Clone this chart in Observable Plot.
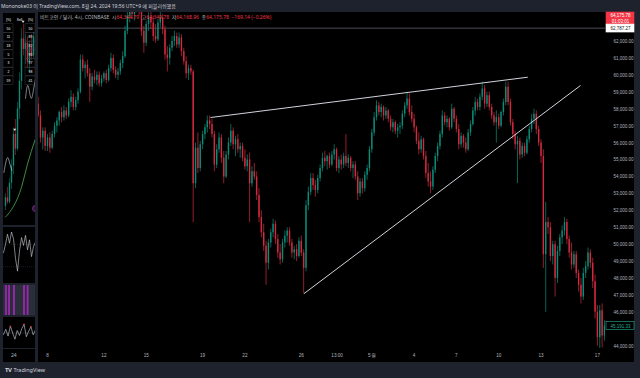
<!DOCTYPE html>
<html><head><meta charset="utf-8">
<script src="https://cdn.jsdelivr.net/npm/d3@7"></script>
<script src="https://cdn.jsdelivr.net/npm/@observablehq/plot@0.6"></script>
<style>
html,body{margin:0;padding:0;}
body{width:640px;height:378px;background:#1e222d;position:relative;overflow:hidden;font-family:"Noto Sans","Noto Sans CJK KR",sans-serif;}
.abs{position:absolute;}
#header{left:1px;top:0;height:12px;line-height:12px;font-size:5px;color:#d1d4dc;white-space:nowrap;}
#legend{left:40px;top:14px;font-size:5px;line-height:6px;color:#b2b5be;white-space:nowrap;z-index:3}
#legend .v{color:#f23645}
#footer{left:5px;top:366px;height:8px;line-height:8px;font-size:5.5px;color:#d1d4dc;white-space:nowrap;}
#footer b{font-size:6px;margin-right:2px;letter-spacing:-0.5px}
.panel{background:#000;}
</style></head><body>
<div id="header" class="abs"></div>
<div id="main" class="abs" style="left:38px;top:12px;"></div>
<div id="legend" class="abs"></div>
<div id="lmain" class="abs panel" style="left:3px;top:13px;width:32px;height:212px"></div>
<div id="losc1" class="abs panel" style="left:3px;top:227px;width:32px;height:56px"></div>
<div id="lpurple" class="abs" style="left:3px;top:285px;width:32px;height:30px"></div>
<div id="losc3" class="abs panel" style="left:3px;top:317px;width:32px;height:31px"></div>
<div id="lbottom" class="abs panel" style="left:3px;top:349px;width:32px;height:13px;font-size:5px;color:#b2b5be;line-height:12px;"></div>
<div id="footer" class="abs"></div>
<script>
// ---------- texts ----------
const headerText = "Mononoke03 이 TradingView.com, 8월 24, 2024 19:56 UTC+9 에 퍼블리쉬했음";
const symbolTitle = "비트코인 / 달러, 4시, COINBASE";
const legendLabels = ["시","고","저","종"];
const legendValues = ["64,344.79","64,349.78","64,168.96","64,175.78"];
const legendChange = "−169.14 (−0.26%)";

// ---------- main chart data (prices in thousands USD, 4h candles) ----------
// x unit: days since Apr 8 00:00; first candle Apr 7 08:00
const firstCandleDay = -1 + 2/6;
const candleStepDays = 1/6;
// [open, high, low, close]
const ohlc = [
[58.3,58.7,57.5,57.6],[57.6,57.9,56.0,56.3],[56.3,56.9,55.6,56.7],[56.7,56.9,55.5,55.8],[55.8,56.5,55.5,56.3],
[56.3,56.6,55.4,55.7],[55.7,56.7,55.6,56.5],[56.5,57.2,56.3,57.0],[57.0,57.5,56.6,57.3],[57.3,57.9,57.0,57.8],
[57.8,58.1,57.2,57.5],[57.5,58.2,57.3,57.9],[57.9,58.1,57.4,57.6],[57.6,58.6,57.5,58.4],[58.4,59.1,58.1,58.7],
[58.7,58.9,57.9,58.1],[58.1,58.7,57.9,58.5],[58.5,59.2,58.3,59.0],[59.0,61.2,58.9,60.9],[60.9,61.2,60.2,60.4],
[60.4,60.8,59.8,60.6],[60.6,60.9,59.9,60.1],[60.1,60.4,58.4,59.3],[59.3,60.1,59.1,59.9],[59.9,60.3,59.5,59.7],
[59.7,60.2,59.4,60.0],[60.0,60.2,59.3,59.5],[59.5,60.0,59.3,59.8],[59.8,60.2,59.6,60.1],[60.1,60.3,59.5,59.7],
[59.7,60.6,59.6,60.4],[60.4,61.3,60.2,61.0],[61.0,61.2,60.1,60.3],[60.3,60.5,59.8,60.0],[60.0,60.4,59.7,60.2],
[60.2,60.9,60.0,60.7],[60.7,61.4,60.4,61.1],[61.1,62.9,61.0,62.6],[62.6,63.9,62.4,63.5],[63.5,64.3,63.1,64.0],
[64.0,64.6,63.3,63.6],[63.6,64.5,63.2,64.2],[64.2,64.9,63.7,64.4],[64.4,64.8,63.5,63.8],[63.8,64.2,62.3,62.6],
[62.6,62.9,61.3,61.9],[61.9,63.2,61.7,63.0],[63.0,63.7,62.6,63.4],[63.4,63.8,62.7,63.1],[63.1,63.5,62.0,62.3],
[62.3,63.0,61.9,62.1],[62.1,63.3,62.0,63.1],[63.1,63.8,62.8,63.4],[63.4,63.6,62.4,62.7],[62.7,62.9,60.9,61.2],
[61.2,61.7,60.2,61.0],[61.0,61.8,60.6,61.6],[61.6,62.3,61.4,62.0],[62.0,62.6,61.7,62.3],[62.3,62.5,61.6,61.8],
[61.8,62.5,61.6,62.2],[62.2,62.4,61.1,61.4],[61.4,61.6,60.6,60.8],[60.8,61.1,59.8,60.1],[60.1,60.6,59.7,60.4],
[60.4,60.6,60.0,60.2],[60.2,60.3,51.3,53.6],[53.6,56.0,53.3,55.7],[55.7,56.6,54.2,54.5],[54.5,56.1,54.3,55.9],
[55.9,56.7,55.6,56.5],[56.5,57.1,56.2,56.9],[56.9,57.6,56.6,57.3],[57.3,57.6,56.8,57.1],[57.1,57.4,56.3,56.5],
[56.5,56.7,54.3,54.7],[54.7,55.9,54.5,55.6],[55.6,56.6,55.4,56.3],[56.3,56.5,54.8,55.1],[55.1,55.5,53.6,54.0],
[54.0,55.5,53.9,55.3],[55.3,56.3,55.0,56.0],[56.0,57.1,55.8,56.7],[56.7,56.9,55.6,55.9],[55.9,56.4,55.2,56.2],
[56.2,56.5,55.4,55.6],[55.6,56.0,55.1,55.8],[55.8,56.0,54.9,55.1],[55.1,55.6,54.4,54.6],[54.6,55.3,54.3,55.0],
[55.0,55.4,51.3,53.6],[53.6,54.6,53.4,54.3],[54.3,54.8,53.8,54.0],[54.0,54.3,52.6,52.9],[52.9,53.3,51.3,51.6],
[51.6,52.0,50.4,50.7],[50.7,51.2,49.6,49.9],[49.9,50.2,47.6,48.9],[48.9,50.3,48.5,50.1],[50.1,50.9,49.8,50.7],
[50.7,51.5,50.4,51.2],[51.2,51.4,50.0,50.3],[50.3,50.6,49.2,49.5],[49.5,50.0,48.8,49.1],[49.1,50.3,48.9,50.1],
[50.1,50.8,49.8,50.5],[50.5,51.0,50.1,50.8],[50.8,51.0,49.9,50.1],[50.1,50.3,49.2,49.5],[49.5,49.9,49.1,49.7],
[49.7,50.0,49.0,49.3],[49.3,50.4,49.2,50.2],[50.2,50.5,49.3,49.5],[49.5,49.7,47.1,48.6],[48.6,52.6,48.4,52.3],
[52.3,53.4,52.0,53.1],[53.1,54.2,52.9,53.9],[53.9,54.2,53.2,53.5],[53.5,53.8,52.8,53.2],[53.2,54.1,53.0,53.9],
[53.9,54.7,53.7,54.5],[54.5,55.4,54.3,55.1],[55.1,55.5,54.6,54.9],[54.9,55.3,54.4,55.2],[55.2,55.4,54.5,54.7],
[54.7,55.5,54.6,55.3],[55.3,55.9,55.0,55.6],[55.6,55.7,54.3,54.5],[54.5,55.2,54.2,55.0],[55.0,55.3,54.4,54.7],
[54.7,55.4,54.5,55.2],[55.2,56.5,54.6,54.8],[54.8,55.3,54.5,55.1],[55.1,55.2,54.3,54.5],[54.5,54.9,53.9,54.7],
[54.7,54.9,53.8,54.0],[54.0,54.3,52.6,53.0],[53.0,53.9,52.8,53.7],[53.7,53.9,53.0,53.3],[53.3,54.3,53.1,54.1],
[54.1,54.7,53.8,54.5],[54.5,55.8,54.3,55.6],[55.6,56.8,55.4,56.6],[56.6,57.8,56.4,57.5],[57.5,58.5,57.3,58.2],
[58.2,58.4,57.6,57.8],[57.8,58.3,57.5,58.1],[58.1,58.2,57.3,57.6],[57.6,58.1,57.4,57.9],[57.9,58.0,57.2,57.4],
[57.4,57.6,56.7,56.9],[56.9,57.4,56.6,57.2],[57.2,57.3,56.5,56.7],[56.7,57.1,56.3,56.9],[56.9,57.2,56.5,57.0],
[57.0,57.9,56.8,57.7],[57.7,58.4,57.5,58.2],[58.2,59.0,58.0,58.6],[58.6,58.9,57.6,57.8],[57.8,58.2,57.2,57.4],
[57.4,57.7,56.6,56.9],[56.9,57.0,55.9,56.1],[56.1,56.6,55.3,55.6],[55.6,56.4,55.4,56.2],[56.2,56.3,55.0,55.2],
[55.2,55.5,53.9,54.2],[54.2,54.8,53.4,53.7],[53.7,54.3,53.0,53.4],[53.4,54.6,53.2,54.4],[54.4,55.4,54.2,55.2],
[55.2,56.0,54.9,55.8],[55.8,56.7,55.6,56.5],[56.5,57.9,56.3,57.6],[57.6,57.8,57.0,57.2],[57.2,57.6,56.9,57.4],
[57.4,57.5,56.7,56.9],[56.9,58.3,56.8,58.0],[58.0,58.1,57.2,57.4],[57.4,57.6,56.6,56.8],[56.8,57.1,55.6,55.9],
[55.9,56.6,55.7,56.4],[56.4,56.5,55.7,56.0],[56.0,56.3,55.4,55.6],[55.6,56.8,55.5,56.6],[56.6,57.3,56.4,57.1],
[57.1,58.1,57.0,57.9],[57.9,58.7,57.6,58.4],[58.4,58.6,57.9,58.1],[58.1,58.9,57.9,58.7],[58.7,59.6,58.5,59.2],
[59.2,59.4,58.0,58.3],[58.3,59.0,58.1,58.8],[58.8,59.0,57.9,58.1],[58.1,58.3,57.4,57.6],[57.6,57.8,57.0,57.2],
[57.2,57.9,56.0,57.5],[57.5,57.7,56.8,57.0],[57.0,57.9,56.9,57.8],[57.8,58.6,57.6,58.4],[58.4,59.6,58.2,59.3],
[59.3,59.6,58.2,58.4],[58.4,58.6,57.0,57.2],[57.2,57.4,56.2,56.5],[56.5,56.7,55.6,55.9],[55.9,56.4,53.6,56.1],
[56.1,56.3,55.0,55.3],[55.3,56.0,55.1,55.8],[55.8,56.0,55.2,55.4],[55.4,56.4,55.3,56.2],[56.2,57.0,56.0,56.8],
[56.8,57.7,56.6,57.4],[57.4,58.0,57.1,57.7],[57.7,57.9,56.5,56.8],[56.8,57.0,55.8,56.0],[56.0,56.2,54.8,55.2],
[55.2,55.6,48.6,49.4],[49.4,52.5,46.0,51.3],[51.3,51.6,50.6,51.0],[51.0,51.3,49.0,49.3],[49.3,50.2,48.8,50.0],
[50.0,50.2,46.9,48.0],[48.0,49.9,47.7,49.6],[49.6,50.6,49.3,50.4],[50.4,51.1,50.0,50.8],[50.8,51.6,50.5,51.3],
[51.3,51.5,50.0,50.3],[50.3,50.5,49.2,49.5],[49.5,50.1,48.5,48.8],[48.8,49.6,48.6,49.4],[49.4,49.6,48.0,48.3],
[48.3,48.5,47.2,47.6],[47.6,48.0,46.5,46.9],[46.9,48.6,46.7,48.3],[48.3,49.0,48.0,48.7],[48.7,49.8,48.5,49.5],
[49.5,49.7,48.6,48.9],[48.9,49.2,47.4,47.8],[47.8,48.2,45.6,46.0],[46.0,46.4,44.0,44.5],[44.5,46.4,43.8,46.1],
[46.1,46.5,43.9,44.6],[44.6,45.5,44.3,45.2]
];
// trendlines drawn on the chart [day1, price1, day2, price2]
const trendlines = [[11.56,57.51,34.06,59.89],[18.18,47.10,37.80,59.40]];
const hLinePrice = 62.78727;
// 45,000.00 sits under the last-price tag, so it is not shown
const yTicks = [44,46,47,48,49,50,51,52,53,54,55,56,57,58,59,60,61,62];
const xTickDays = [0,4,7,11,14,18,20.54,23,26,29,32,35,39];
const xTickLabels = ["8","12","15","19","22","26","13:00","5월","4","7","10","13","17"];
const priceTags = [
  {top:63.713, bottom:63.0, lines:["64,175.78","01:03:01"], fill:"#f23645", text:"#ffffff", stroke:"#f23645"},
  {top:63.0, bottom:62.53, lines:["62,787.27"], fill:"#ffffff", text:"#131722", stroke:"#ffffff"},
  {top:45.43, bottom:44.95, lines:["45,191.33"], fill:"#000000", text:"#22ab94", stroke:"#22ab94"}
];

const UP = "#0a8c78", DOWN = "#d42a3f";
const candles = ohlc.map((r,i)=>({day:firstCandleDay+i*candleStepDays, open:r[0], high:r[1], low:r[2], close:r[3]}));
const ups = candles.filter(d=>d.close>=d.open), downs = candles.filter(d=>d.close<d.open);
const tickLabel = new Map(xTickDays.map((d,i)=>[d,xTickLabels[i]]));
const tagText = priceTags.flatMap(t=>t.lines.map((s,j)=>({s, t, y: t.lines.length===1 ? (t.top+t.bottom)/2 : t.top-(t.top-t.bottom)*(j*2+1)/4})));

const chart = Plot.plot({
  width:596, height:350, marginLeft:0, marginRight:29, marginTop:0, marginBottom:14,
  style:{background:"#000", color:"#b2b5be", fontFamily:"'Liberation Sans','Noto Sans',sans-serif", fontSize:"4.5px", overflow:"visible"},
  x:{domain:[-0.638,39.574], axis:null, label:null},
  y:{domain:[43.864,63.713], axis:null, label:null},
  marks:[
    Plot.ruleY([hLinePrice],{stroke:"#5d606b", strokeWidth:0.8}),
    Plot.ruleX(ups,{x:"day", y1:"low", y2:"high", stroke:UP, strokeWidth:0.7, clip:true}),
    Plot.ruleX(downs,{x:"day", y1:"low", y2:"high", stroke:DOWN, strokeWidth:0.7, clip:true}),
    Plot.ruleX(ups,{x:"day", y1:"open", y2:"close", stroke:UP, strokeWidth:1.4, clip:true}),
    Plot.ruleX(downs,{x:"day", y1:"open", y2:"close", stroke:DOWN, strokeWidth:1.4, clip:true}),
    Plot.link(trendlines,{x1:d=>d[0], y1:d=>d[1], x2:d=>d[2], y2:d=>d[3], stroke:"#d1d4dc", strokeWidth:1}),
    Plot.axisY({anchor:"right", label:null, ticks:yTicks, tickFormat:d=>d3.format(",.2f")(d*1000), tickSize:0, tickPadding:8, fontSize:4.5, fill:"#b2b5be"}),
    Plot.axisX({label:null, ticks:xTickDays, tickFormat:d=>tickLabel.get(d), tickSize:0, tickPadding:5, fontSize:4.6, fill:"#b2b5be"}),
    Plot.rect(priceTags,{x1:39.574, x2:39.574, y1:"bottom", y2:"top", insetLeft:1, insetRight:-29, fill:"fill", stroke:"stroke", strokeWidth:0.6}),
    Plot.text(tagText,{x:39.574, y:"y", text:"s", dx:15, fill:d=>d.t.text, fontSize:4.5})
  ]
});
document.getElementById("main").appendChild(chart);

// legend + header
document.getElementById("header").textContent = headerText;
document.getElementById("legend").innerHTML = symbolTitle + "&nbsp;&nbsp;" +
  legendLabels.map((l,i)=>l+'<span class="v">'+legendValues[i]+'</span>').join("&nbsp;&nbsp;") +
  '&nbsp;&nbsp;<span class="v">'+legendChange+'</span>';
document.getElementById("footer").innerHTML = "<b>TV</b>TradingView";

// ---------- left mini panel data ----------
const miniOHLC = [[9,15,7,13],[13,18,10,11],[11,22,10,20],[20,31,17,28],[28,46,24,43],[43,50,33,36],[36,58,35,55],
  [55,72,50,68],[68,93,64,88],[88,95,80,83],[83,90,76,86],[86,89,74,77],[77,87,72,84],[84,90,78,80],[80,91,79,89]];
const miniMA = [[0,4],[4,9],[8,18],[11,29],[15,41]];
const miniWhiteA = [[-0.8,25],[0.2,30],[1.2,32],[2.2,29],[3.2,26]];
const miniWhiteB = [[10,60],[11,66],[12,63],[13,60],[14,64],[15,69]];
const miniSignals = [[8.8,96],[4.6,45]];
const tableHeader = ["(%)","Sell","(%)"];
const tableLeft = ["50","11","18","5","3","2","59"];
const tableRight = ["50","89","82","95","97","98","41"];
const osc1 = [55,70,88,72,92,80,45,22,58,82,68,86,60,78,48,66,74];
const purpleBars = [0.5,2,4.5,9.5,11.3];
const osc3 = [45,62,40,72,50,30,58,42,64,78,38,56,70,44,60];
const miniAxisLabel = "24";

const mUp = miniOHLC.map((r,i)=>({i,o:r[0],h:r[1],l:r[2],c:r[3]}));
const rows = tableLeft.map((v,i)=>({row:i+1, l:v, r:tableRight[i]}));
const lm = Plot.plot({
  width:32, height:212, margin:0, style:{background:"#000", fontFamily:"'Liberation Sans',sans-serif", overflow:"hidden"},
  x:{domain:[-1,15], axis:null}, y:{domain:[0,100], axis:null},
  marks:[
    Plot.ruleX(mUp,{x:"i", y1:"l", y2:"h", stroke:d=>d.c>=d.o?UP:DOWN, strokeWidth:0.5}),
    Plot.ruleX(mUp,{x:"i", y1:"o", y2:"c", stroke:d=>d.c>=d.o?UP:DOWN, strokeWidth:1.4}),
    Plot.line(miniMA,{curve:"natural", stroke:"#4caf50", strokeWidth:0.8}),
    Plot.line(miniWhiteA,{curve:"natural", stroke:"#d1d4dc", strokeWidth:0.6}),
    Plot.line(miniWhiteB,{curve:"natural", stroke:"#d1d4dc", strokeWidth:0.6}),
    Plot.text(miniSignals,{text:()=>"▼", fill:"#fff", fontSize:4}),
    Plot.rect(rows,{x1:-1, x2:4, y1:d=>97-d.row*4.1-2, y2:d=>97-d.row*4.1+2, stroke:"#434651", strokeWidth:0.4}),
    Plot.rect(rows,{x1:10, x2:15, y1:d=>97-d.row*4.1-2, y2:d=>97-d.row*4.1+2, stroke:"#434651", strokeWidth:0.4}),
    Plot.text(rows,{x:1.5, y:d=>97-d.row*4.1, text:"l", fill:"#fff", fontSize:3.4}),
    Plot.text(rows,{x:12.5, y:d=>97-d.row*4.1, text:"r", fill:"#fff", fontSize:3.4}),
    Plot.text(tableHeader,{x:(d,i)=>[1.5,7,12.5][i], y:97, text:d=>d, fill:"#fff", fontSize:3.2}),
    Plot.dot([[15,8]],{r:3, stroke:"#9c27b0", fill:"#2a1a33", strokeWidth:0.8})
  ]
});
document.getElementById("lmain").appendChild(lm);

const o1 = Plot.plot({width:32, height:56, margin:0, style:{background:"#000"},
  x:{domain:[0,osc1.length-1], axis:null}, y:{domain:[0,100], axis:null},
  marks:[Plot.ruleY([30,70],{stroke:"#434651", strokeWidth:0.4, strokeDasharray:"1,1"}),
         Plot.lineY(osc1,{x:(d,i)=>i, stroke:"#d1d4dc", strokeWidth:0.6})]});
document.getElementById("losc1").appendChild(o1);

const pp = Plot.plot({width:32, height:30, margin:0, style:{background:"#2a2e39"},
  x:{domain:[-1,15], axis:null}, y:{domain:[0,1], axis:null},
  marks:[Plot.rect(purpleBars,{x1:d=>d-0.45, x2:d=>d+0.45, y1:0, y2:1, fill:"#9c27b0"})]});
document.getElementById("lpurple").appendChild(pp);

const o3 = Plot.plot({width:32, height:31, margin:0, style:{background:"#000"},
  x:{domain:[0,osc3.length-1], axis:null}, y:{domain:[0,100], axis:null},
  marks:[Plot.ruleY([50],{stroke:"#434651", strokeWidth:0.4}),
         Plot.lineY(osc3,{x:(d,i)=>i, stroke:"#d1d4dc", strokeWidth:0.6}),
         Plot.dot(osc3.map((v,i)=>[i,v]).filter(d=>d[1]>=70),{r:0.8, fill:"#f23645"})]});
document.getElementById("losc3").appendChild(o3);
document.getElementById("lbottom").innerHTML = '<span style="margin-left:8px">'+miniAxisLabel+'</span>';
</script>
</body></html>
